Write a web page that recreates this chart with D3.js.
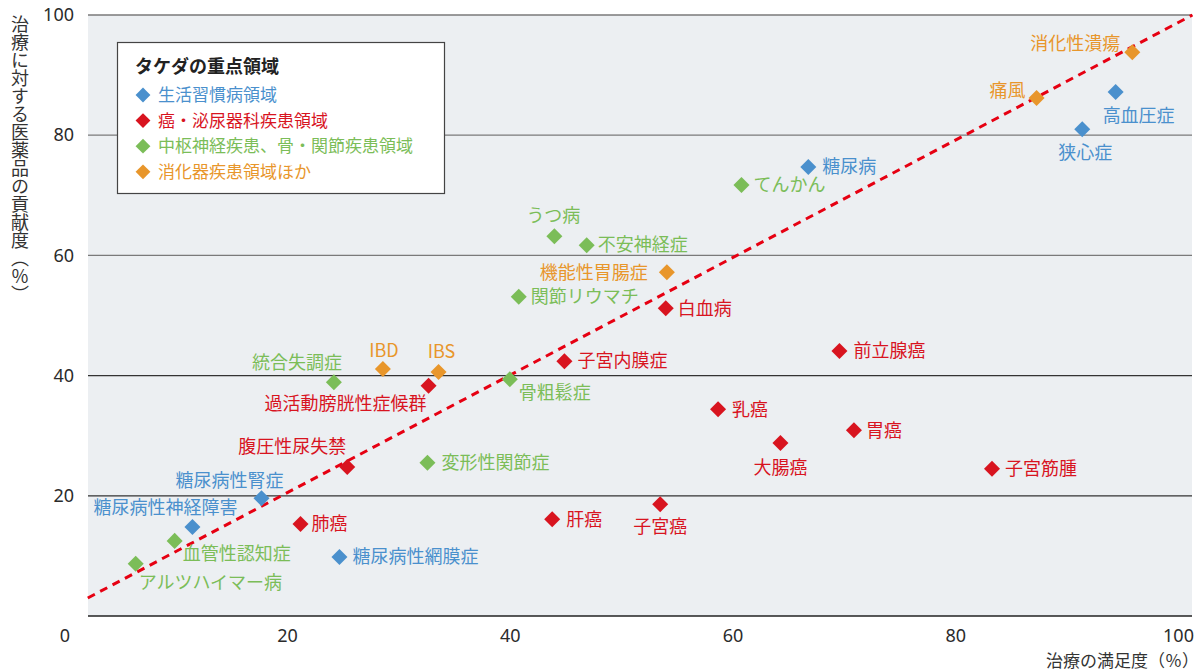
<!DOCTYPE html>
<html lang="ja">
<head>
<meta charset="utf-8">
<script src="https://cdn.jsdelivr.net/npm/d3@7"></script>
<style>
  html, body { margin: 0; padding: 0; background: #fff; }
  svg { display: block; font-family: "Noto Sans CJK JP", "Noto Sans", sans-serif; }
  .tick text { font-family: "Noto Sans", "Noto Sans CJK JP", sans-serif; font-size: 18px; fill: #2b2b2b; }
</style>
</head>
<body>
<svg id="chart" width="1203" height="672"></svg>
<script>
(function () {
    "use strict";

    // ---- data ----------------------------------------------------
    const groups = ["生活習慣病領域", "癌・泌尿器科疾患領域", "中枢神経疾患、骨・関節疾患領域", "消化器疾患領域ほか"];
    const groupColors = ["#4a90cd", "#d8141f", "#7bbd58", "#e8962b"];

    // [name, 満足度, 貢献度]
    const lifestyle = [
        ["高血圧症", 94.4, 87.2],
        ["狭心症", 91.4, 81.0],
        ["糖尿病", 66.8, 74.7],
        ["糖尿病性腎症", 17.7, 19.6],
        ["糖尿病性神経障害", 11.5, 14.8],
        ["糖尿病性網膜症", 24.7, 9.8]
    ];
    const oncology = [
        ["白血病", 54.0, 51.2],
        ["子宮内膜症", 44.9, 42.4],
        ["前立腺癌", 69.6, 44.1],
        ["過活動膀胱性症候群", 32.7, 38.3],
        ["乳癌", 58.7, 34.4],
        ["胃癌", 70.9, 30.9],
        ["大腸癌", 64.3, 28.8],
        ["子宮筋腫", 83.3, 24.5],
        ["腹圧性尿失禁", 25.4, 24.8],
        ["肺癌", 21.2, 15.3],
        ["肝癌", 43.8, 16.1],
        ["子宮癌", 53.5, 18.6]
    ];
    const cns = [
        ["てんかん", 60.8, 71.7],
        ["うつ病", 44.0, 63.2],
        ["不安神経症", 46.9, 61.7],
        ["関節リウマチ", 40.8, 53.1],
        ["統合失調症", 24.2, 38.9],
        ["骨粗鬆症", 40.0, 39.4],
        ["変形性関節症", 32.6, 25.5],
        ["血管性認知症", 9.9, 12.5],
        ["アルツハイマー病", 6.4, 8.7]
    ];
    const gastro = [
        ["消化性潰瘍", 95.9, 93.8],
        ["痛風", 87.3, 86.2],
        ["機能性胃腸症", 54.1, 57.2],
        ["IBD", 28.6, 41.1],
        ["IBS", 33.6, 40.6]
    ];
    const series = [lifestyle, oncology, cns, gastro];

    const xTicks = [0, 20, 40, 60, 80, 100];
    const yTicks = [20, 40, 60, 80, 100];
    const trend = [[2.1, 3.0], [101.3, 100]];

    const xTitle = "治療の満足度（％）";
    const yTitle = "治療に対する医薬品の貢献度（％）";
    const legendTitle = "タケダの重点領域";

    // ---- label placement (anchor, dx, dy relative to the marker) ---
    const LABEL_POS = {
        "高血圧症": ["start", -13, 24], "狭心症": ["middle", 3, 24], "糖尿病": ["start", 14, 0],
        "糖尿病性腎症": ["middle", -32, -18], "糖尿病性神経障害": ["middle", -27, -19],
        "糖尿病性網膜症": ["start", 13, 0],
        "白血病": ["start", 12, 0], "子宮内膜症": ["start", 13, 0], "前立腺癌": ["start", 14, 0],
        "過活動膀胱性症候群": ["end", -2, 18], "乳癌": ["start", 14, 0], "胃癌": ["start", 12, 0],
        "大腸癌": ["middle", 0, 25], "子宮筋腫": ["start", 13, 0], "腹圧性尿失禁": ["end", -1, -20],
        "肺癌": ["start", 11, 0], "肝癌": ["start", 14, 0], "子宮癌": ["middle", 0, 22],
        "てんかん": ["start", 12, 0], "うつ病": ["middle", -1, -20], "不安神経症": ["start", 11, 0],
        "関節リウマチ": ["start", 12, 0], "統合失調症": ["middle", -37, -20], "骨粗鬆症": ["start", 9, 13],
        "変形性関節症": ["start", 14, 0], "血管性認知症": ["start", 8, 13], "アルツハイマー病": ["start", 3, 19],
        "消化性潰瘍": ["end", -12, -9], "痛風": ["end", -11, -7], "機能性胃腸症": ["end", -19, 0],
        "IBD": ["middle", 1, -18], "IBS": ["middle", 3, -20]
    };

    // ---- layout -----------------------------------------------------
    const plot = { left: 88, right: 1192, top: 15, bottom: 616 };

    const x = d3.scaleLinear().domain([0, 100]).range([64.4, 1178]);
    const y = d3.scaleLinear().domain([0, 100]).range([plot.bottom, plot.top]);

    const svg = d3.select("#chart");

    svg.append("rect")
        .attr("x", plot.left).attr("y", plot.top)
        .attr("width", plot.right - plot.left).attr("height", plot.bottom - plot.top)
        .attr("fill", "#eceff2");

    // gridlines
    svg.append("g").selectAll("line")
        .data(yTicks)
        .join("line")
        .attr("x1", plot.left).attr("x2", plot.right)
        .attr("y1", d => y(d)).attr("y2", d => y(d))
        .attr("stroke", d => d <= 40 ? "#333" : "#7a7a7a")
        .attr("stroke-width", 1.3);

    svg.append("line")
        .attr("x1", plot.left).attr("x2", plot.right)
        .attr("y1", plot.bottom).attr("y2", plot.bottom)
        .attr("stroke", "#222").attr("stroke-width", 1.5);

    // axes (labels only)
    svg.append("g")
        .attr("transform", `translate(${plot.left},0)`)
        .call(d3.axisLeft(y).tickValues(yTicks).tickSize(0).tickPadding(14))
        .call(g => g.select(".domain").remove());

    svg.append("g")
        .attr("transform", `translate(0,${plot.bottom})`)
        .call(d3.axisBottom(x).tickValues(xTicks).tickSize(0).tickPadding(13))
        .call(g => g.select(".domain").remove());

    // axis titles
    svg.append("text")
        .attr("x", 20).attr("y", 15)
        .style("writing-mode", "vertical-rl")
        .style("text-orientation", "mixed")
        .attr("font-size", 18)
        .attr("fill", "#333")
        .text(yTitle);

    svg.append("text")
        .attr("x", 1199).attr("y", 661)
        .attr("dy", "0.35em")
        .attr("text-anchor", "end")
        .attr("font-size", 17)
        .attr("fill", "#333")
        .text(xTitle);

    // trend line
    svg.append("path")
        .datum(trend)
        .attr("d", d3.line().x(d => x(d[0])).y(d => y(d[1])))
        .attr("fill", "none")
        .attr("stroke", "#e60012")
        .attr("stroke-width", 3)
        .attr("stroke-dasharray", "8,6");

    // points + labels
    const diamond = d3.symbol().type(d3.symbolSquare).size(128);
    const pts = series.flatMap((s, i) => s.map(d => ({ name: d[0], sx: d[1], sy: d[2], g: i })));

    const pg = svg.append("g");
    pg.selectAll("path")
        .data(pts)
        .join("path")
        .attr("d", diamond)
        .attr("transform", d => `translate(${x(d.sx)},${y(d.sy)}) rotate(45)`)
        .attr("fill", d => groupColors[d.g]);

    pg.selectAll("text")
        .data(pts)
        .join("text")
        .attr("x", d => x(d.sx) + LABEL_POS[d.name][1])
        .attr("y", d => y(d.sy) + LABEL_POS[d.name][2])
        .attr("dy", "0.35em")
        .attr("text-anchor", d => LABEL_POS[d.name][0])
        .attr("font-size", 18)
        .attr("fill", d => groupColors[d.g])
        .text(d => d.name);

    // legend
    const lg = svg.append("g");
    lg.append("rect")
        .attr("x", 117.5).attr("y", 42.5).attr("width", 327).attr("height", 151)
        .attr("fill", "#fff").attr("stroke", "#444").attr("stroke-width", 1.2);
    lg.append("text")
        .attr("x", 135).attr("y", 67).attr("dy", "0.35em")
        .attr("font-size", 18).attr("font-weight", "bold").attr("fill", "#222")
        .text(legendTitle);
    const item = lg.selectAll("g.item")
        .data(groups)
        .join("g")
        .attr("class", "item")
        .attr("transform", (d, i) => `translate(143,${95 + i * 25.6})`);
    item.append("path")
        .attr("d", d3.symbol().type(d3.symbolSquare).size(110))
        .attr("transform", "rotate(45)")
        .attr("fill", (d, i) => groupColors[i]);
    item.append("text")
        .attr("x", 15).attr("dy", "0.35em")
        .attr("font-size", 17)
        .attr("fill", (d, i) => groupColors[i])
        .text(d => d);
})();
</script>
</body>
</html>
